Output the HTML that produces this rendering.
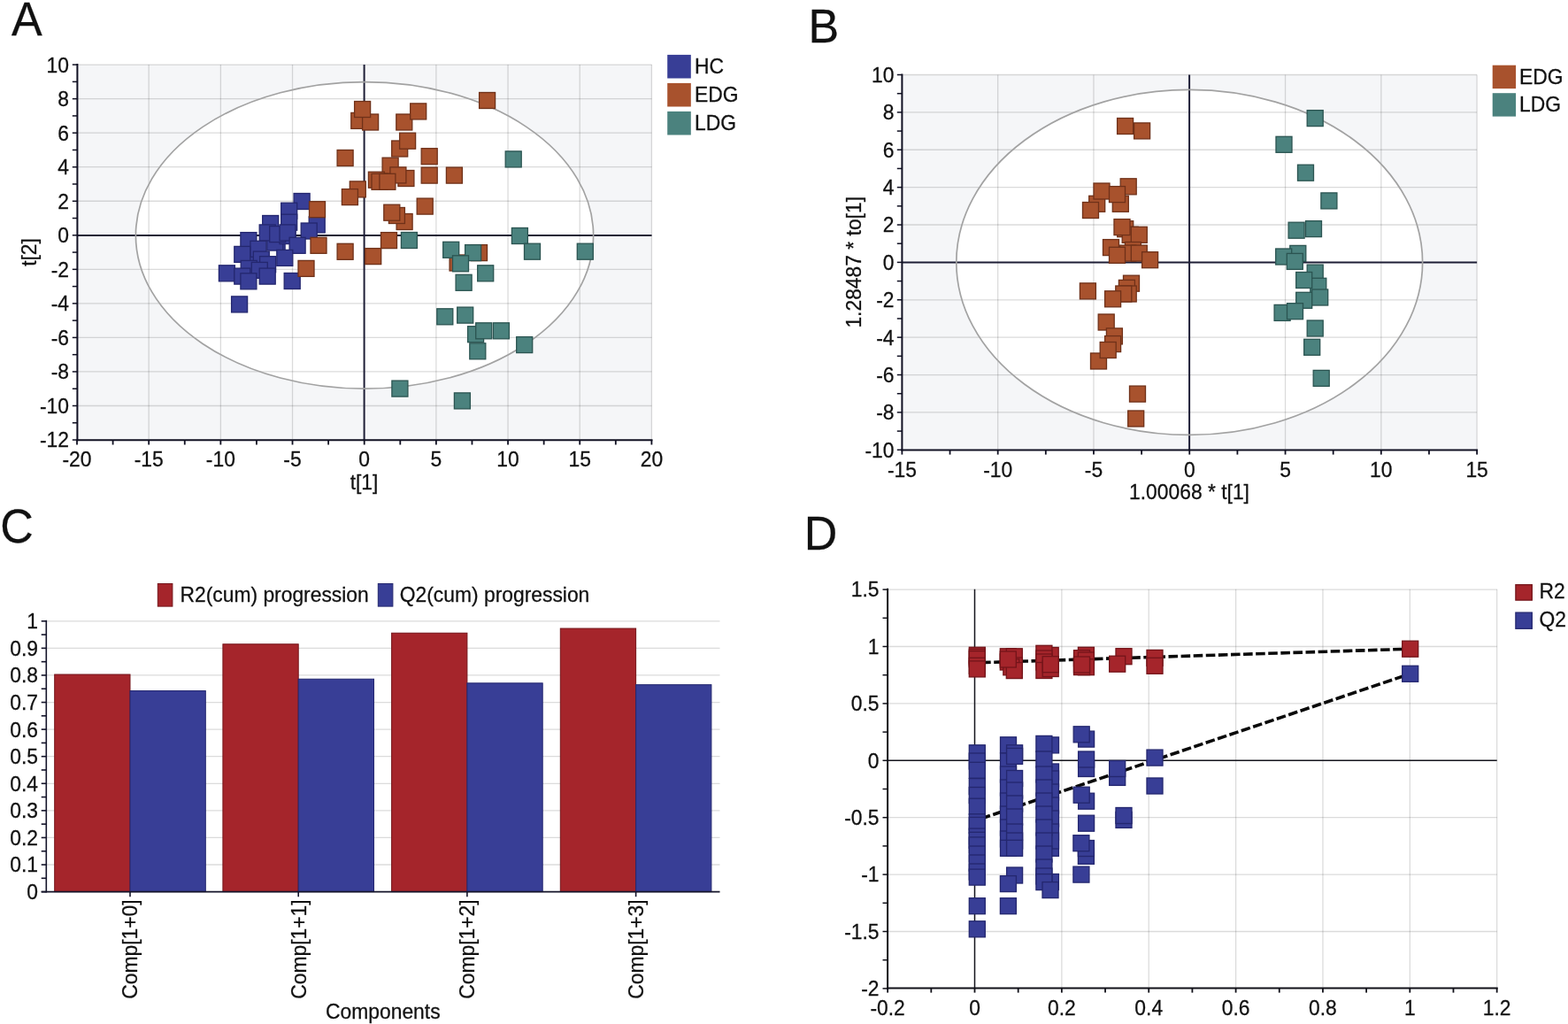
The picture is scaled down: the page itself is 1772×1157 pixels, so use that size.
<!DOCTYPE html>
<html lang="en"><head><meta charset="utf-8"><title>Figure</title>
<style>html,body{margin:0;padding:0;background:#fff}svg{display:block}text{font-family:'Liberation Sans', sans-serif;fill:#111111;stroke:#111111;stroke-width:0.28px}</style>
</head><body>
<svg width="1772" height="1157" viewBox="0 0 1772 1157">
<rect width="1772" height="1157" fill="#ffffff"/>
<g>
<rect x="87.4" y="73" width="649.1" height="424.3" fill="#f5f6f8"/>
<ellipse cx="412.0" cy="265.9" rx="258.6" ry="173.3" fill="#ffffff"/>
<line x1="168.18" y1="73" x2="168.18" y2="497.3" stroke="#000000" stroke-opacity="0.14" stroke-width="1.3"/>
<line x1="249.35" y1="73" x2="249.35" y2="497.3" stroke="#000000" stroke-opacity="0.14" stroke-width="1.3"/>
<line x1="330.52" y1="73" x2="330.52" y2="497.3" stroke="#000000" stroke-opacity="0.14" stroke-width="1.3"/>
<line x1="492.88" y1="73" x2="492.88" y2="497.3" stroke="#000000" stroke-opacity="0.14" stroke-width="1.3"/>
<line x1="574.05" y1="73" x2="574.05" y2="497.3" stroke="#000000" stroke-opacity="0.14" stroke-width="1.3"/>
<line x1="655.22" y1="73" x2="655.22" y2="497.3" stroke="#000000" stroke-opacity="0.14" stroke-width="1.3"/>
<line x1="736.4" y1="73" x2="736.4" y2="497.3" stroke="#000000" stroke-opacity="0.14" stroke-width="1.3"/>
<line x1="87.4" y1="73.1" x2="736.5" y2="73.1" stroke="#000000" stroke-opacity="0.14" stroke-width="1.3"/>
<line x1="87.4" y1="111.64" x2="736.5" y2="111.64" stroke="#000000" stroke-opacity="0.14" stroke-width="1.3"/>
<line x1="87.4" y1="150.18" x2="736.5" y2="150.18" stroke="#000000" stroke-opacity="0.14" stroke-width="1.3"/>
<line x1="87.4" y1="188.72" x2="736.5" y2="188.72" stroke="#000000" stroke-opacity="0.14" stroke-width="1.3"/>
<line x1="87.4" y1="227.26" x2="736.5" y2="227.26" stroke="#000000" stroke-opacity="0.14" stroke-width="1.3"/>
<line x1="87.4" y1="304.34" x2="736.5" y2="304.34" stroke="#000000" stroke-opacity="0.14" stroke-width="1.3"/>
<line x1="87.4" y1="342.88" x2="736.5" y2="342.88" stroke="#000000" stroke-opacity="0.14" stroke-width="1.3"/>
<line x1="87.4" y1="381.42" x2="736.5" y2="381.42" stroke="#000000" stroke-opacity="0.14" stroke-width="1.3"/>
<line x1="87.4" y1="419.96" x2="736.5" y2="419.96" stroke="#000000" stroke-opacity="0.14" stroke-width="1.3"/>
<line x1="87.4" y1="458.5" x2="736.5" y2="458.5" stroke="#000000" stroke-opacity="0.14" stroke-width="1.3"/>
<line x1="87.4" y1="266.0" x2="736.5" y2="266.0" stroke="#1e1e36" stroke-width="2.0"/>
<line x1="411.6" y1="73" x2="411.6" y2="497.3" stroke="#1e1e36" stroke-width="2.0"/>
<ellipse cx="412.0" cy="265.9" rx="258.6" ry="173.3" fill="none" stroke="#a2a2a2" stroke-width="1.7"/>
<rect x="279.6" y="281.7" width="18.0" height="18.0" fill="#383e96" stroke="#24276f" stroke-width="1.3"/>
<rect x="304.1" y="264.6" width="18.0" height="18.0" fill="#383e96" stroke="#24276f" stroke-width="1.3"/>
<rect x="301.8" y="265.0" width="18.0" height="18.0" fill="#383e96" stroke="#24276f" stroke-width="1.3"/>
<rect x="316.0" y="257.6" width="18.0" height="18.0" fill="#383e96" stroke="#24276f" stroke-width="1.3"/>
<rect x="332.1" y="218.5" width="18.0" height="18.0" fill="#383e96" stroke="#24276f" stroke-width="1.3"/>
<rect x="317.7" y="229.2" width="18.0" height="18.0" fill="#383e96" stroke="#24276f" stroke-width="1.3"/>
<rect x="317.7" y="242.2" width="18.0" height="18.0" fill="#383e96" stroke="#24276f" stroke-width="1.3"/>
<rect x="296.7" y="243.5" width="18.0" height="18.0" fill="#383e96" stroke="#24276f" stroke-width="1.3"/>
<rect x="349.2" y="244.9" width="18.0" height="18.0" fill="#383e96" stroke="#24276f" stroke-width="1.3"/>
<rect x="293.2" y="253.9" width="18.0" height="18.0" fill="#383e96" stroke="#24276f" stroke-width="1.3"/>
<rect x="304.7" y="255.6" width="18.0" height="18.0" fill="#383e96" stroke="#24276f" stroke-width="1.3"/>
<rect x="316.0" y="253.9" width="18.0" height="18.0" fill="#383e96" stroke="#24276f" stroke-width="1.3"/>
<rect x="340.2" y="252.0" width="18.0" height="18.0" fill="#383e96" stroke="#24276f" stroke-width="1.3"/>
<rect x="271.9" y="262.6" width="18.0" height="18.0" fill="#383e96" stroke="#24276f" stroke-width="1.3"/>
<rect x="327.1" y="268.3" width="18.0" height="18.0" fill="#383e96" stroke="#24276f" stroke-width="1.3"/>
<rect x="282.9" y="272.3" width="18.0" height="18.0" fill="#383e96" stroke="#24276f" stroke-width="1.3"/>
<rect x="264.8" y="278.4" width="18.0" height="18.0" fill="#383e96" stroke="#24276f" stroke-width="1.3"/>
<rect x="312.8" y="282.4" width="18.0" height="18.0" fill="#383e96" stroke="#24276f" stroke-width="1.3"/>
<rect x="286.3" y="284.1" width="18.0" height="18.0" fill="#383e96" stroke="#24276f" stroke-width="1.3"/>
<rect x="293.6" y="289.7" width="18.0" height="18.0" fill="#383e96" stroke="#24276f" stroke-width="1.3"/>
<rect x="272.2" y="294.4" width="18.0" height="18.0" fill="#383e96" stroke="#24276f" stroke-width="1.3"/>
<rect x="247.4" y="299.8" width="18.0" height="18.0" fill="#383e96" stroke="#24276f" stroke-width="1.3"/>
<rect x="264.8" y="303.1" width="18.0" height="18.0" fill="#383e96" stroke="#24276f" stroke-width="1.3"/>
<rect x="284.3" y="296.4" width="18.0" height="18.0" fill="#383e96" stroke="#24276f" stroke-width="1.3"/>
<rect x="293.2" y="303.1" width="18.0" height="18.0" fill="#383e96" stroke="#24276f" stroke-width="1.3"/>
<rect x="271.9" y="308.8" width="18.0" height="18.0" fill="#383e96" stroke="#24276f" stroke-width="1.3"/>
<rect x="321.2" y="308.5" width="18.0" height="18.0" fill="#383e96" stroke="#24276f" stroke-width="1.3"/>
<rect x="261.6" y="334.9" width="18.0" height="18.0" fill="#383e96" stroke="#24276f" stroke-width="1.3"/>
<rect x="396.8" y="127.4" width="18.0" height="18.0" fill="#a8522d" stroke="#6f3119" stroke-width="1.3"/>
<rect x="409.6" y="129.0" width="18.0" height="18.0" fill="#a8522d" stroke="#6f3119" stroke-width="1.3"/>
<rect x="400.6" y="114.5" width="18.0" height="18.0" fill="#a8522d" stroke="#6f3119" stroke-width="1.3"/>
<rect x="447.8" y="129.0" width="18.0" height="18.0" fill="#a8522d" stroke="#6f3119" stroke-width="1.3"/>
<rect x="463.7" y="116.9" width="18.0" height="18.0" fill="#a8522d" stroke="#6f3119" stroke-width="1.3"/>
<rect x="541.6" y="104.5" width="18.0" height="18.0" fill="#a8522d" stroke="#6f3119" stroke-width="1.3"/>
<rect x="442.7" y="159.0" width="18.0" height="18.0" fill="#a8522d" stroke="#6f3119" stroke-width="1.3"/>
<rect x="451.6" y="150.2" width="18.0" height="18.0" fill="#a8522d" stroke="#6f3119" stroke-width="1.3"/>
<rect x="381.1" y="169.5" width="18.0" height="18.0" fill="#a8522d" stroke="#6f3119" stroke-width="1.3"/>
<rect x="476.2" y="167.7" width="18.0" height="18.0" fill="#a8522d" stroke="#6f3119" stroke-width="1.3"/>
<rect x="432.1" y="178.2" width="18.0" height="18.0" fill="#a8522d" stroke="#6f3119" stroke-width="1.3"/>
<rect x="476.2" y="189.1" width="18.0" height="18.0" fill="#a8522d" stroke="#6f3119" stroke-width="1.3"/>
<rect x="504.4" y="189.1" width="18.0" height="18.0" fill="#a8522d" stroke="#6f3119" stroke-width="1.3"/>
<rect x="449.9" y="192.5" width="18.0" height="18.0" fill="#a8522d" stroke="#6f3119" stroke-width="1.3"/>
<rect x="440.9" y="188.9" width="18.0" height="18.0" fill="#a8522d" stroke="#6f3119" stroke-width="1.3"/>
<rect x="416.4" y="194.2" width="18.0" height="18.0" fill="#a8522d" stroke="#6f3119" stroke-width="1.3"/>
<rect x="420.0" y="196.3" width="18.0" height="18.0" fill="#a8522d" stroke="#6f3119" stroke-width="1.3"/>
<rect x="428.9" y="196.3" width="18.0" height="18.0" fill="#a8522d" stroke="#6f3119" stroke-width="1.3"/>
<rect x="395.3" y="204.9" width="18.0" height="18.0" fill="#a8522d" stroke="#6f3119" stroke-width="1.3"/>
<rect x="386.4" y="213.6" width="18.0" height="18.0" fill="#a8522d" stroke="#6f3119" stroke-width="1.3"/>
<rect x="471.2" y="224.1" width="18.0" height="18.0" fill="#a8522d" stroke="#6f3119" stroke-width="1.3"/>
<rect x="448.1" y="241.5" width="18.0" height="18.0" fill="#a8522d" stroke="#6f3119" stroke-width="1.3"/>
<rect x="439.4" y="234.5" width="18.0" height="18.0" fill="#a8522d" stroke="#6f3119" stroke-width="1.3"/>
<rect x="433.8" y="231.2" width="18.0" height="18.0" fill="#a8522d" stroke="#6f3119" stroke-width="1.3"/>
<rect x="430.5" y="262.6" width="18.0" height="18.0" fill="#a8522d" stroke="#6f3119" stroke-width="1.3"/>
<rect x="381.1" y="275.3" width="18.0" height="18.0" fill="#a8522d" stroke="#6f3119" stroke-width="1.3"/>
<rect x="412.7" y="280.6" width="18.0" height="18.0" fill="#a8522d" stroke="#6f3119" stroke-width="1.3"/>
<rect x="349.5" y="227.7" width="18.0" height="18.0" fill="#a8522d" stroke="#6f3119" stroke-width="1.3"/>
<rect x="351.0" y="268.3" width="18.0" height="18.0" fill="#a8522d" stroke="#6f3119" stroke-width="1.3"/>
<rect x="337.0" y="294.4" width="18.0" height="18.0" fill="#a8522d" stroke="#6f3119" stroke-width="1.3"/>
<rect x="532.5" y="276.6" width="18.0" height="18.0" fill="#a8522d" stroke="#6f3119" stroke-width="1.3"/>
<rect x="508.1" y="288.0" width="18.0" height="18.0" fill="#a8522d" stroke="#6f3119" stroke-width="1.3"/>
<rect x="571.2" y="170.9" width="18.0" height="18.0" fill="#4b827e" stroke="#2b5451" stroke-width="1.3"/>
<rect x="453.4" y="262.5" width="18.0" height="18.0" fill="#4b827e" stroke="#2b5451" stroke-width="1.3"/>
<rect x="578.4" y="257.5" width="18.0" height="18.0" fill="#4b827e" stroke="#2b5451" stroke-width="1.3"/>
<rect x="592.5" y="275.2" width="18.0" height="18.0" fill="#4b827e" stroke="#2b5451" stroke-width="1.3"/>
<rect x="652.3" y="275.2" width="18.0" height="18.0" fill="#4b827e" stroke="#2b5451" stroke-width="1.3"/>
<rect x="500.7" y="273.3" width="18.0" height="18.0" fill="#4b827e" stroke="#2b5451" stroke-width="1.3"/>
<rect x="525.6" y="276.6" width="18.0" height="18.0" fill="#4b827e" stroke="#2b5451" stroke-width="1.3"/>
<rect x="511.5" y="288.8" width="18.0" height="18.0" fill="#4b827e" stroke="#2b5451" stroke-width="1.3"/>
<rect x="539.7" y="299.8" width="18.0" height="18.0" fill="#4b827e" stroke="#2b5451" stroke-width="1.3"/>
<rect x="515.1" y="310.3" width="18.0" height="18.0" fill="#4b827e" stroke="#2b5451" stroke-width="1.3"/>
<rect x="493.8" y="348.8" width="18.0" height="18.0" fill="#4b827e" stroke="#2b5451" stroke-width="1.3"/>
<rect x="516.7" y="347.1" width="18.0" height="18.0" fill="#4b827e" stroke="#2b5451" stroke-width="1.3"/>
<rect x="528.6" y="368.7" width="18.0" height="18.0" fill="#4b827e" stroke="#2b5451" stroke-width="1.3"/>
<rect x="537.7" y="364.8" width="18.0" height="18.0" fill="#4b827e" stroke="#2b5451" stroke-width="1.3"/>
<rect x="557.4" y="364.8" width="18.0" height="18.0" fill="#4b827e" stroke="#2b5451" stroke-width="1.3"/>
<rect x="530.8" y="387.8" width="18.0" height="18.0" fill="#4b827e" stroke="#2b5451" stroke-width="1.3"/>
<rect x="583.7" y="380.6" width="18.0" height="18.0" fill="#4b827e" stroke="#2b5451" stroke-width="1.3"/>
<rect x="442.9" y="430.1" width="18.0" height="18.0" fill="#4b827e" stroke="#2b5451" stroke-width="1.3"/>
<rect x="513.4" y="443.9" width="18.0" height="18.0" fill="#4b827e" stroke="#2b5451" stroke-width="1.3"/>
<line x1="87.4" y1="72" x2="87.4" y2="498.3" stroke="#101022" stroke-width="2"/>
<line x1="86.4" y1="497.3" x2="737.5" y2="497.3" stroke="#101022" stroke-width="2"/>
<line x1="81.80000000000001" y1="73.1" x2="87.4" y2="73.1" stroke="#101022" stroke-width="1.5"/>
<text transform="translate(78 81.5) scale(0.9569 1)" font-size="23.88" text-anchor="end">10</text>
<line x1="81.80000000000001" y1="111.64" x2="87.4" y2="111.64" stroke="#101022" stroke-width="1.5"/>
<text transform="translate(78 120.0) scale(0.9569 1)" font-size="23.88" text-anchor="end">8</text>
<line x1="81.80000000000001" y1="150.18" x2="87.4" y2="150.18" stroke="#101022" stroke-width="1.5"/>
<text transform="translate(78 158.6) scale(0.9569 1)" font-size="23.88" text-anchor="end">6</text>
<line x1="81.80000000000001" y1="188.72" x2="87.4" y2="188.72" stroke="#101022" stroke-width="1.5"/>
<text transform="translate(78 197.1) scale(0.9569 1)" font-size="23.88" text-anchor="end">4</text>
<line x1="81.80000000000001" y1="227.26" x2="87.4" y2="227.26" stroke="#101022" stroke-width="1.5"/>
<text transform="translate(78 235.7) scale(0.9569 1)" font-size="23.88" text-anchor="end">2</text>
<line x1="81.80000000000001" y1="265.8" x2="87.4" y2="265.8" stroke="#101022" stroke-width="1.5"/>
<text transform="translate(78 274.2) scale(0.9569 1)" font-size="23.88" text-anchor="end">0</text>
<line x1="81.80000000000001" y1="304.34" x2="87.4" y2="304.34" stroke="#101022" stroke-width="1.5"/>
<text transform="translate(78 312.7) scale(0.9569 1)" font-size="23.88" text-anchor="end">-2</text>
<line x1="81.80000000000001" y1="342.88" x2="87.4" y2="342.88" stroke="#101022" stroke-width="1.5"/>
<text transform="translate(78 351.3) scale(0.9569 1)" font-size="23.88" text-anchor="end">-4</text>
<line x1="81.80000000000001" y1="381.42" x2="87.4" y2="381.42" stroke="#101022" stroke-width="1.5"/>
<text transform="translate(78 389.8) scale(0.9569 1)" font-size="23.88" text-anchor="end">-6</text>
<line x1="81.80000000000001" y1="419.96" x2="87.4" y2="419.96" stroke="#101022" stroke-width="1.5"/>
<text transform="translate(78 428.4) scale(0.9569 1)" font-size="23.88" text-anchor="end">-8</text>
<line x1="81.80000000000001" y1="458.5" x2="87.4" y2="458.5" stroke="#101022" stroke-width="1.5"/>
<text transform="translate(78 466.9) scale(0.9569 1)" font-size="23.88" text-anchor="end">-10</text>
<line x1="81.80000000000001" y1="497.04" x2="87.4" y2="497.04" stroke="#101022" stroke-width="1.5"/>
<text transform="translate(78 505.4) scale(0.9569 1)" font-size="23.88" text-anchor="end">-12</text>
<line x1="81.80000000000001" y1="92.37" x2="87.4" y2="92.37" stroke="#101022" stroke-width="1.5"/>
<line x1="81.80000000000001" y1="130.91" x2="87.4" y2="130.91" stroke="#101022" stroke-width="1.5"/>
<line x1="81.80000000000001" y1="169.45" x2="87.4" y2="169.45" stroke="#101022" stroke-width="1.5"/>
<line x1="81.80000000000001" y1="207.99" x2="87.4" y2="207.99" stroke="#101022" stroke-width="1.5"/>
<line x1="81.80000000000001" y1="246.53" x2="87.4" y2="246.53" stroke="#101022" stroke-width="1.5"/>
<line x1="81.80000000000001" y1="285.07" x2="87.4" y2="285.07" stroke="#101022" stroke-width="1.5"/>
<line x1="81.80000000000001" y1="323.61" x2="87.4" y2="323.61" stroke="#101022" stroke-width="1.5"/>
<line x1="81.80000000000001" y1="362.15" x2="87.4" y2="362.15" stroke="#101022" stroke-width="1.5"/>
<line x1="81.80000000000001" y1="400.69" x2="87.4" y2="400.69" stroke="#101022" stroke-width="1.5"/>
<line x1="81.80000000000001" y1="439.23" x2="87.4" y2="439.23" stroke="#101022" stroke-width="1.5"/>
<line x1="81.80000000000001" y1="477.77" x2="87.4" y2="477.77" stroke="#101022" stroke-width="1.5"/>
<line x1="87.0" y1="497.3" x2="87.0" y2="502.5" stroke="#101022" stroke-width="1.8"/>
<text transform="translate(87.0 527.4) scale(0.9569 1)" font-size="23.88" text-anchor="middle">-20</text>
<line x1="168.18" y1="497.3" x2="168.18" y2="502.5" stroke="#101022" stroke-width="1.8"/>
<text transform="translate(168.18 527.4) scale(0.9569 1)" font-size="23.88" text-anchor="middle">-15</text>
<line x1="249.35" y1="497.3" x2="249.35" y2="502.5" stroke="#101022" stroke-width="1.8"/>
<text transform="translate(249.35 527.4) scale(0.9569 1)" font-size="23.88" text-anchor="middle">-10</text>
<line x1="330.52" y1="497.3" x2="330.52" y2="502.5" stroke="#101022" stroke-width="1.8"/>
<text transform="translate(330.52 527.4) scale(0.9569 1)" font-size="23.88" text-anchor="middle">-5</text>
<line x1="411.7" y1="497.3" x2="411.7" y2="502.5" stroke="#101022" stroke-width="1.8"/>
<text transform="translate(411.7 527.4) scale(0.9569 1)" font-size="23.88" text-anchor="middle">0</text>
<line x1="492.88" y1="497.3" x2="492.88" y2="502.5" stroke="#101022" stroke-width="1.8"/>
<text transform="translate(492.88 527.4) scale(0.9569 1)" font-size="23.88" text-anchor="middle">5</text>
<line x1="574.05" y1="497.3" x2="574.05" y2="502.5" stroke="#101022" stroke-width="1.8"/>
<text transform="translate(574.05 527.4) scale(0.9569 1)" font-size="23.88" text-anchor="middle">10</text>
<line x1="655.22" y1="497.3" x2="655.22" y2="502.5" stroke="#101022" stroke-width="1.8"/>
<text transform="translate(655.22 527.4) scale(0.9569 1)" font-size="23.88" text-anchor="middle">15</text>
<line x1="736.4" y1="497.3" x2="736.4" y2="502.5" stroke="#101022" stroke-width="1.8"/>
<text transform="translate(736.4 527.4) scale(0.9569 1)" font-size="23.88" text-anchor="middle">20</text>
<line x1="127.59" y1="497.3" x2="127.59" y2="502.5" stroke="#101022" stroke-width="1.8"/>
<line x1="208.76" y1="497.3" x2="208.76" y2="502.5" stroke="#101022" stroke-width="1.8"/>
<line x1="289.94" y1="497.3" x2="289.94" y2="502.5" stroke="#101022" stroke-width="1.8"/>
<line x1="371.11" y1="497.3" x2="371.11" y2="502.5" stroke="#101022" stroke-width="1.8"/>
<line x1="452.29" y1="497.3" x2="452.29" y2="502.5" stroke="#101022" stroke-width="1.8"/>
<line x1="533.46" y1="497.3" x2="533.46" y2="502.5" stroke="#101022" stroke-width="1.8"/>
<line x1="614.64" y1="497.3" x2="614.64" y2="502.5" stroke="#101022" stroke-width="1.8"/>
<line x1="695.81" y1="497.3" x2="695.81" y2="502.5" stroke="#101022" stroke-width="1.8"/>
<text transform="translate(411.5 553.2) scale(0.9569 1)" font-size="23.88" text-anchor="middle">t[1]</text>
<text transform="translate(41 285) rotate(-90) scale(0.9569 1)" font-size="23.88" text-anchor="middle">t[2]</text>
<rect x="754.2" y="61.9" width="26.6" height="26.6" fill="#383e96"/>
<text transform="translate(785 83.2) scale(0.9569 1)" font-size="23.88" text-anchor="start">HC</text>
<rect x="754.2" y="93.9" width="26.6" height="26.6" fill="#a8522d"/>
<text transform="translate(785 115.2) scale(0.9569 1)" font-size="23.88" text-anchor="start">EDG</text>
<rect x="754.2" y="125.9" width="26.6" height="26.6" fill="#4b827e"/>
<text transform="translate(785 147.2) scale(0.9569 1)" font-size="23.88" text-anchor="start">LDG</text>
</g>
<g>
<rect x="1019.4" y="84.5" width="649.6999999999999" height="423.9" fill="#f5f6f8"/>
<ellipse cx="1344.2" cy="296.4" rx="263.4" ry="195" fill="#ffffff"/>
<line x1="1127.68" y1="84.5" x2="1127.68" y2="508.4" stroke="#000000" stroke-opacity="0.14" stroke-width="1.3"/>
<line x1="1235.96" y1="84.5" x2="1235.96" y2="508.4" stroke="#000000" stroke-opacity="0.14" stroke-width="1.3"/>
<line x1="1452.54" y1="84.5" x2="1452.54" y2="508.4" stroke="#000000" stroke-opacity="0.14" stroke-width="1.3"/>
<line x1="1560.82" y1="84.5" x2="1560.82" y2="508.4" stroke="#000000" stroke-opacity="0.14" stroke-width="1.3"/>
<line x1="1669.11" y1="84.5" x2="1669.11" y2="508.4" stroke="#000000" stroke-opacity="0.14" stroke-width="1.3"/>
<line x1="1019.4" y1="84.5" x2="1669.1" y2="84.5" stroke="#000000" stroke-opacity="0.14" stroke-width="1.3"/>
<line x1="1019.4" y1="126.88" x2="1669.1" y2="126.88" stroke="#000000" stroke-opacity="0.14" stroke-width="1.3"/>
<line x1="1019.4" y1="169.26" x2="1669.1" y2="169.26" stroke="#000000" stroke-opacity="0.14" stroke-width="1.3"/>
<line x1="1019.4" y1="211.64" x2="1669.1" y2="211.64" stroke="#000000" stroke-opacity="0.14" stroke-width="1.3"/>
<line x1="1019.4" y1="254.02" x2="1669.1" y2="254.02" stroke="#000000" stroke-opacity="0.14" stroke-width="1.3"/>
<line x1="1019.4" y1="338.78" x2="1669.1" y2="338.78" stroke="#000000" stroke-opacity="0.14" stroke-width="1.3"/>
<line x1="1019.4" y1="381.16" x2="1669.1" y2="381.16" stroke="#000000" stroke-opacity="0.14" stroke-width="1.3"/>
<line x1="1019.4" y1="423.54" x2="1669.1" y2="423.54" stroke="#000000" stroke-opacity="0.14" stroke-width="1.3"/>
<line x1="1019.4" y1="465.92" x2="1669.1" y2="465.92" stroke="#000000" stroke-opacity="0.14" stroke-width="1.3"/>
<line x1="1019.4" y1="296.45" x2="1669.1" y2="296.45" stroke="#1e1e36" stroke-width="2.0"/>
<line x1="1344.1" y1="84.5" x2="1344.1" y2="508.4" stroke="#1e1e36" stroke-width="2.0"/>
<ellipse cx="1344.2" cy="296.4" rx="263.4" ry="195" fill="none" stroke="#a2a2a2" stroke-width="1.7"/>
<rect x="1262.6" y="133.5" width="18.0" height="18.0" fill="#a8522d" stroke="#6f3119" stroke-width="1.3"/>
<rect x="1281.6" y="138.9" width="18.0" height="18.0" fill="#a8522d" stroke="#6f3119" stroke-width="1.3"/>
<rect x="1266.2" y="201.8" width="18.0" height="18.0" fill="#a8522d" stroke="#6f3119" stroke-width="1.3"/>
<rect x="1230.7" y="221.3" width="18.0" height="18.0" fill="#a8522d" stroke="#6f3119" stroke-width="1.3"/>
<rect x="1257.3" y="221.3" width="18.0" height="18.0" fill="#a8522d" stroke="#6f3119" stroke-width="1.3"/>
<rect x="1236.0" y="207.0" width="18.0" height="18.0" fill="#a8522d" stroke="#6f3119" stroke-width="1.3"/>
<rect x="1253.5" y="210.6" width="18.0" height="18.0" fill="#a8522d" stroke="#6f3119" stroke-width="1.3"/>
<rect x="1223.5" y="228.5" width="18.0" height="18.0" fill="#a8522d" stroke="#6f3119" stroke-width="1.3"/>
<rect x="1262.7" y="249.7" width="18.0" height="18.0" fill="#a8522d" stroke="#6f3119" stroke-width="1.3"/>
<rect x="1268.2" y="256.3" width="18.0" height="18.0" fill="#a8522d" stroke="#6f3119" stroke-width="1.3"/>
<rect x="1278.3" y="256.3" width="18.0" height="18.0" fill="#a8522d" stroke="#6f3119" stroke-width="1.3"/>
<rect x="1259.0" y="247.6" width="18.0" height="18.0" fill="#a8522d" stroke="#6f3119" stroke-width="1.3"/>
<rect x="1246.5" y="270.6" width="18.0" height="18.0" fill="#a8522d" stroke="#6f3119" stroke-width="1.3"/>
<rect x="1271.4" y="273.5" width="18.0" height="18.0" fill="#a8522d" stroke="#6f3119" stroke-width="1.3"/>
<rect x="1265.7" y="277.1" width="18.0" height="18.0" fill="#a8522d" stroke="#6f3119" stroke-width="1.3"/>
<rect x="1278.3" y="277.1" width="18.0" height="18.0" fill="#a8522d" stroke="#6f3119" stroke-width="1.3"/>
<rect x="1290.6" y="284.7" width="18.0" height="18.0" fill="#a8522d" stroke="#6f3119" stroke-width="1.3"/>
<rect x="1253.5" y="279.3" width="18.0" height="18.0" fill="#a8522d" stroke="#6f3119" stroke-width="1.3"/>
<rect x="1269.5" y="311.2" width="18.0" height="18.0" fill="#a8522d" stroke="#6f3119" stroke-width="1.3"/>
<rect x="1264.4" y="316.4" width="18.0" height="18.0" fill="#a8522d" stroke="#6f3119" stroke-width="1.3"/>
<rect x="1266.2" y="323.0" width="18.0" height="18.0" fill="#a8522d" stroke="#6f3119" stroke-width="1.3"/>
<rect x="1260.8" y="323.0" width="18.0" height="18.0" fill="#a8522d" stroke="#6f3119" stroke-width="1.3"/>
<rect x="1220.4" y="319.9" width="18.0" height="18.0" fill="#a8522d" stroke="#6f3119" stroke-width="1.3"/>
<rect x="1248.6" y="328.8" width="18.0" height="18.0" fill="#a8522d" stroke="#6f3119" stroke-width="1.3"/>
<rect x="1241.2" y="355.0" width="18.0" height="18.0" fill="#a8522d" stroke="#6f3119" stroke-width="1.3"/>
<rect x="1250.4" y="370.9" width="18.0" height="18.0" fill="#a8522d" stroke="#6f3119" stroke-width="1.3"/>
<rect x="1248.6" y="379.6" width="18.0" height="18.0" fill="#a8522d" stroke="#6f3119" stroke-width="1.3"/>
<rect x="1232.5" y="399.0" width="18.0" height="18.0" fill="#a8522d" stroke="#6f3119" stroke-width="1.3"/>
<rect x="1243.2" y="386.5" width="18.0" height="18.0" fill="#a8522d" stroke="#6f3119" stroke-width="1.3"/>
<rect x="1276.5" y="436.1" width="18.0" height="18.0" fill="#a8522d" stroke="#6f3119" stroke-width="1.3"/>
<rect x="1274.7" y="464.0" width="18.0" height="18.0" fill="#a8522d" stroke="#6f3119" stroke-width="1.3"/>
<rect x="1477.2" y="124.6" width="18.0" height="18.0" fill="#4b827e" stroke="#2b5451" stroke-width="1.3"/>
<rect x="1442.0" y="154.3" width="18.0" height="18.0" fill="#4b827e" stroke="#2b5451" stroke-width="1.3"/>
<rect x="1466.5" y="186.2" width="18.0" height="18.0" fill="#4b827e" stroke="#2b5451" stroke-width="1.3"/>
<rect x="1492.9" y="217.9" width="18.0" height="18.0" fill="#4b827e" stroke="#2b5451" stroke-width="1.3"/>
<rect x="1456.1" y="251.2" width="18.0" height="18.0" fill="#4b827e" stroke="#2b5451" stroke-width="1.3"/>
<rect x="1475.5" y="249.6" width="18.0" height="18.0" fill="#4b827e" stroke="#2b5451" stroke-width="1.3"/>
<rect x="1457.8" y="277.4" width="18.0" height="18.0" fill="#4b827e" stroke="#2b5451" stroke-width="1.3"/>
<rect x="1441.7" y="281.0" width="18.0" height="18.0" fill="#4b827e" stroke="#2b5451" stroke-width="1.3"/>
<rect x="1454.3" y="286.4" width="18.0" height="18.0" fill="#4b827e" stroke="#2b5451" stroke-width="1.3"/>
<rect x="1477.2" y="299.1" width="18.0" height="18.0" fill="#4b827e" stroke="#2b5451" stroke-width="1.3"/>
<rect x="1480.8" y="314.3" width="18.0" height="18.0" fill="#4b827e" stroke="#2b5451" stroke-width="1.3"/>
<rect x="1464.7" y="307.5" width="18.0" height="18.0" fill="#4b827e" stroke="#2b5451" stroke-width="1.3"/>
<rect x="1464.7" y="330.3" width="18.0" height="18.0" fill="#4b827e" stroke="#2b5451" stroke-width="1.3"/>
<rect x="1482.7" y="327.0" width="18.0" height="18.0" fill="#4b827e" stroke="#2b5451" stroke-width="1.3"/>
<rect x="1440.1" y="344.4" width="18.0" height="18.0" fill="#4b827e" stroke="#2b5451" stroke-width="1.3"/>
<rect x="1454.5" y="342.7" width="18.0" height="18.0" fill="#4b827e" stroke="#2b5451" stroke-width="1.3"/>
<rect x="1477.2" y="362.0" width="18.0" height="18.0" fill="#4b827e" stroke="#2b5451" stroke-width="1.3"/>
<rect x="1473.7" y="383.3" width="18.0" height="18.0" fill="#4b827e" stroke="#2b5451" stroke-width="1.3"/>
<rect x="1484.2" y="418.4" width="18.0" height="18.0" fill="#4b827e" stroke="#2b5451" stroke-width="1.3"/>
<line x1="1019.4" y1="83.5" x2="1019.4" y2="509.4" stroke="#101022" stroke-width="2"/>
<line x1="1018.4" y1="508.4" x2="1670.1" y2="508.4" stroke="#101022" stroke-width="2"/>
<line x1="1013.8" y1="84.5" x2="1019.4" y2="84.5" stroke="#101022" stroke-width="1.5"/>
<text transform="translate(1010.5 92.9) scale(0.9569 1)" font-size="23.88" text-anchor="end">10</text>
<line x1="1013.8" y1="126.88" x2="1019.4" y2="126.88" stroke="#101022" stroke-width="1.5"/>
<text transform="translate(1010.5 135.3) scale(0.9569 1)" font-size="23.88" text-anchor="end">8</text>
<line x1="1013.8" y1="169.26" x2="1019.4" y2="169.26" stroke="#101022" stroke-width="1.5"/>
<text transform="translate(1010.5 177.7) scale(0.9569 1)" font-size="23.88" text-anchor="end">6</text>
<line x1="1013.8" y1="211.64" x2="1019.4" y2="211.64" stroke="#101022" stroke-width="1.5"/>
<text transform="translate(1010.5 220.0) scale(0.9569 1)" font-size="23.88" text-anchor="end">4</text>
<line x1="1013.8" y1="254.02" x2="1019.4" y2="254.02" stroke="#101022" stroke-width="1.5"/>
<text transform="translate(1010.5 262.4) scale(0.9569 1)" font-size="23.88" text-anchor="end">2</text>
<line x1="1013.8" y1="296.4" x2="1019.4" y2="296.4" stroke="#101022" stroke-width="1.5"/>
<text transform="translate(1010.5 304.8) scale(0.9569 1)" font-size="23.88" text-anchor="end">0</text>
<line x1="1013.8" y1="338.78" x2="1019.4" y2="338.78" stroke="#101022" stroke-width="1.5"/>
<text transform="translate(1010.5 347.2) scale(0.9569 1)" font-size="23.88" text-anchor="end">-2</text>
<line x1="1013.8" y1="381.16" x2="1019.4" y2="381.16" stroke="#101022" stroke-width="1.5"/>
<text transform="translate(1010.5 389.6) scale(0.9569 1)" font-size="23.88" text-anchor="end">-4</text>
<line x1="1013.8" y1="423.54" x2="1019.4" y2="423.54" stroke="#101022" stroke-width="1.5"/>
<text transform="translate(1010.5 431.9) scale(0.9569 1)" font-size="23.88" text-anchor="end">-6</text>
<line x1="1013.8" y1="465.92" x2="1019.4" y2="465.92" stroke="#101022" stroke-width="1.5"/>
<text transform="translate(1010.5 474.3) scale(0.9569 1)" font-size="23.88" text-anchor="end">-8</text>
<line x1="1013.8" y1="508.3" x2="1019.4" y2="508.3" stroke="#101022" stroke-width="1.5"/>
<text transform="translate(1010.5 516.7) scale(0.9569 1)" font-size="23.88" text-anchor="end">-10</text>
<line x1="1013.8" y1="105.69" x2="1019.4" y2="105.69" stroke="#101022" stroke-width="1.5"/>
<line x1="1013.8" y1="148.07" x2="1019.4" y2="148.07" stroke="#101022" stroke-width="1.5"/>
<line x1="1013.8" y1="190.45" x2="1019.4" y2="190.45" stroke="#101022" stroke-width="1.5"/>
<line x1="1013.8" y1="232.83" x2="1019.4" y2="232.83" stroke="#101022" stroke-width="1.5"/>
<line x1="1013.8" y1="275.21" x2="1019.4" y2="275.21" stroke="#101022" stroke-width="1.5"/>
<line x1="1013.8" y1="317.59" x2="1019.4" y2="317.59" stroke="#101022" stroke-width="1.5"/>
<line x1="1013.8" y1="359.97" x2="1019.4" y2="359.97" stroke="#101022" stroke-width="1.5"/>
<line x1="1013.8" y1="402.35" x2="1019.4" y2="402.35" stroke="#101022" stroke-width="1.5"/>
<line x1="1013.8" y1="444.73" x2="1019.4" y2="444.73" stroke="#101022" stroke-width="1.5"/>
<line x1="1013.8" y1="487.11" x2="1019.4" y2="487.11" stroke="#101022" stroke-width="1.5"/>
<line x1="1019.39" y1="508.4" x2="1019.39" y2="513.6" stroke="#101022" stroke-width="1.8"/>
<text transform="translate(1019.39 538.6) scale(0.9569 1)" font-size="23.88" text-anchor="middle">-15</text>
<line x1="1127.68" y1="508.4" x2="1127.68" y2="513.6" stroke="#101022" stroke-width="1.8"/>
<text transform="translate(1127.68 538.6) scale(0.9569 1)" font-size="23.88" text-anchor="middle">-10</text>
<line x1="1235.96" y1="508.4" x2="1235.96" y2="513.6" stroke="#101022" stroke-width="1.8"/>
<text transform="translate(1235.96 538.6) scale(0.9569 1)" font-size="23.88" text-anchor="middle">-5</text>
<line x1="1344.25" y1="508.4" x2="1344.25" y2="513.6" stroke="#101022" stroke-width="1.8"/>
<text transform="translate(1344.25 538.6) scale(0.9569 1)" font-size="23.88" text-anchor="middle">0</text>
<line x1="1452.54" y1="508.4" x2="1452.54" y2="513.6" stroke="#101022" stroke-width="1.8"/>
<text transform="translate(1452.54 538.6) scale(0.9569 1)" font-size="23.88" text-anchor="middle">5</text>
<line x1="1560.82" y1="508.4" x2="1560.82" y2="513.6" stroke="#101022" stroke-width="1.8"/>
<text transform="translate(1560.82 538.6) scale(0.9569 1)" font-size="23.88" text-anchor="middle">10</text>
<line x1="1669.11" y1="508.4" x2="1669.11" y2="513.6" stroke="#101022" stroke-width="1.8"/>
<text transform="translate(1669.11 538.6) scale(0.9569 1)" font-size="23.88" text-anchor="middle">15</text>
<line x1="1073.54" y1="508.4" x2="1073.54" y2="513.6" stroke="#101022" stroke-width="1.8"/>
<line x1="1181.82" y1="508.4" x2="1181.82" y2="513.6" stroke="#101022" stroke-width="1.8"/>
<line x1="1290.11" y1="508.4" x2="1290.11" y2="513.6" stroke="#101022" stroke-width="1.8"/>
<line x1="1398.39" y1="508.4" x2="1398.39" y2="513.6" stroke="#101022" stroke-width="1.8"/>
<line x1="1506.68" y1="508.4" x2="1506.68" y2="513.6" stroke="#101022" stroke-width="1.8"/>
<line x1="1614.96" y1="508.4" x2="1614.96" y2="513.6" stroke="#101022" stroke-width="1.8"/>
<text transform="translate(1344 564) scale(0.9569 1)" font-size="23.88" text-anchor="middle">1.00068 * t[1]</text>
<text transform="translate(972.5 296.3) rotate(-90) scale(0.9569 1)" font-size="23.88" text-anchor="middle">1.28487 * to[1]</text>
<rect x="1686.7" y="73.7" width="26.4" height="26.4" fill="#a8522d"/>
<text transform="translate(1717 94.8) scale(0.9569 1)" font-size="23.88" text-anchor="start">EDG</text>
<rect x="1686.7" y="105.2" width="26.4" height="26.4" fill="#4b827e"/>
<text transform="translate(1717 126.3) scale(0.9569 1)" font-size="23.88" text-anchor="start">LDG</text>
</g>
<g>
<rect x="1003.1" y="665.7" width="688.6" height="450.70000000000005" fill="#ffffff"/>
<line x1="1199.86" y1="665.7" x2="1199.86" y2="1116.4" stroke="#000000" stroke-opacity="0.14" stroke-width="1.3"/>
<line x1="1298.22" y1="665.7" x2="1298.22" y2="1116.4" stroke="#000000" stroke-opacity="0.14" stroke-width="1.3"/>
<line x1="1396.58" y1="665.7" x2="1396.58" y2="1116.4" stroke="#000000" stroke-opacity="0.14" stroke-width="1.3"/>
<line x1="1494.94" y1="665.7" x2="1494.94" y2="1116.4" stroke="#000000" stroke-opacity="0.14" stroke-width="1.3"/>
<line x1="1593.3" y1="665.7" x2="1593.3" y2="1116.4" stroke="#000000" stroke-opacity="0.14" stroke-width="1.3"/>
<line x1="1691.66" y1="665.7" x2="1691.66" y2="1116.4" stroke="#000000" stroke-opacity="0.14" stroke-width="1.3"/>
<line x1="1003.1" y1="666.1" x2="1691.7" y2="666.1" stroke="#000000" stroke-opacity="0.14" stroke-width="1.3"/>
<line x1="1003.1" y1="730.5" x2="1691.7" y2="730.5" stroke="#000000" stroke-opacity="0.14" stroke-width="1.3"/>
<line x1="1003.1" y1="794.9" x2="1691.7" y2="794.9" stroke="#000000" stroke-opacity="0.14" stroke-width="1.3"/>
<line x1="1003.1" y1="923.7" x2="1691.7" y2="923.7" stroke="#000000" stroke-opacity="0.14" stroke-width="1.3"/>
<line x1="1003.1" y1="988.1" x2="1691.7" y2="988.1" stroke="#000000" stroke-opacity="0.14" stroke-width="1.3"/>
<line x1="1003.1" y1="1052.5" x2="1691.7" y2="1052.5" stroke="#000000" stroke-opacity="0.14" stroke-width="1.3"/>
<line x1="1003.1" y1="859.3" x2="1691.7" y2="859.3" stroke="#14141c" stroke-width="1.5"/>
<line x1="1101.5" y1="665.7" x2="1101.5" y2="1116.4" stroke="#14141c" stroke-width="1.5"/>
<line x1="1104.3" y1="748.8" x2="1593.7" y2="733.2" stroke="#0a0a0a" stroke-width="3.6" stroke-dasharray="10.6 3.5" stroke-dashoffset="9.3"/>
<line x1="1104.3" y1="926.5" x2="1593.7" y2="761.3" stroke="#0a0a0a" stroke-width="3.6" stroke-dasharray="10.6 3.5" stroke-dashoffset="9.3"/>
<rect x="1095.3" y="731.3" width="18.0" height="18.0" fill="#a5252b" stroke="#74141a" stroke-width="1.3"/>
<rect x="1095.3" y="733.4" width="18.0" height="18.0" fill="#a5252b" stroke="#74141a" stroke-width="1.3"/>
<rect x="1095.3" y="735.6" width="18.0" height="18.0" fill="#a5252b" stroke="#74141a" stroke-width="1.3"/>
<rect x="1095.3" y="743.3" width="18.0" height="18.0" fill="#a5252b" stroke="#74141a" stroke-width="1.3"/>
<rect x="1095.3" y="746.9" width="18.0" height="18.0" fill="#a5252b" stroke="#74141a" stroke-width="1.3"/>
<rect x="1130.3" y="732.8" width="18.0" height="18.0" fill="#a5252b" stroke="#74141a" stroke-width="1.3"/>
<rect x="1137.3" y="732.8" width="18.0" height="18.0" fill="#a5252b" stroke="#74141a" stroke-width="1.3"/>
<rect x="1130.3" y="739.0" width="18.0" height="18.0" fill="#a5252b" stroke="#74141a" stroke-width="1.3"/>
<rect x="1137.3" y="743.0" width="18.0" height="18.0" fill="#a5252b" stroke="#74141a" stroke-width="1.3"/>
<rect x="1133.8" y="744.8" width="18.0" height="18.0" fill="#a5252b" stroke="#74141a" stroke-width="1.3"/>
<rect x="1137.3" y="748.6" width="18.0" height="18.0" fill="#a5252b" stroke="#74141a" stroke-width="1.3"/>
<rect x="1130.3" y="736.0" width="18.0" height="18.0" fill="#a5252b" stroke="#74141a" stroke-width="1.3"/>
<rect x="1178.2" y="731.5" width="18.0" height="18.0" fill="#a5252b" stroke="#74141a" stroke-width="1.3"/>
<rect x="1170.9" y="729.3" width="18.0" height="18.0" fill="#a5252b" stroke="#74141a" stroke-width="1.3"/>
<rect x="1170.9" y="735.0" width="18.0" height="18.0" fill="#a5252b" stroke="#74141a" stroke-width="1.3"/>
<rect x="1170.9" y="739.0" width="18.0" height="18.0" fill="#a5252b" stroke="#74141a" stroke-width="1.3"/>
<rect x="1170.9" y="748.5" width="18.0" height="18.0" fill="#a5252b" stroke="#74141a" stroke-width="1.3"/>
<rect x="1178.2" y="746.5" width="18.0" height="18.0" fill="#a5252b" stroke="#74141a" stroke-width="1.3"/>
<rect x="1178.2" y="741.7" width="18.0" height="18.0" fill="#a5252b" stroke="#74141a" stroke-width="1.3"/>
<rect x="1218.4" y="731.3" width="18.0" height="18.0" fill="#a5252b" stroke="#74141a" stroke-width="1.3"/>
<rect x="1213.5" y="734.7" width="18.0" height="18.0" fill="#a5252b" stroke="#74141a" stroke-width="1.3"/>
<rect x="1218.4" y="737.0" width="18.0" height="18.0" fill="#a5252b" stroke="#74141a" stroke-width="1.3"/>
<rect x="1218.4" y="744.7" width="18.0" height="18.0" fill="#a5252b" stroke="#74141a" stroke-width="1.3"/>
<rect x="1213.5" y="744.6" width="18.0" height="18.0" fill="#a5252b" stroke="#74141a" stroke-width="1.3"/>
<rect x="1213.5" y="742.0" width="18.0" height="18.0" fill="#a5252b" stroke="#74141a" stroke-width="1.3"/>
<rect x="1261.0" y="732.7" width="18.0" height="18.0" fill="#a5252b" stroke="#74141a" stroke-width="1.3"/>
<rect x="1253.7" y="741.2" width="18.0" height="18.0" fill="#a5252b" stroke="#74141a" stroke-width="1.3"/>
<rect x="1296.0" y="734.4" width="18.0" height="18.0" fill="#a5252b" stroke="#74141a" stroke-width="1.3"/>
<rect x="1296.0" y="743.3" width="18.0" height="18.0" fill="#a5252b" stroke="#74141a" stroke-width="1.3"/>
<rect x="1584.7" y="724.2" width="18.0" height="18.0" fill="#a5252b" stroke="#74141a" stroke-width="1.3"/>
<rect x="1095.3" y="841.8" width="18.0" height="18.0" fill="#383e96" stroke="#24276f" stroke-width="1.3"/>
<rect x="1095.3" y="851.0" width="18.0" height="18.0" fill="#383e96" stroke="#24276f" stroke-width="1.3"/>
<rect x="1095.3" y="861.3" width="18.0" height="18.0" fill="#383e96" stroke="#24276f" stroke-width="1.3"/>
<rect x="1095.3" y="879.6" width="18.0" height="18.0" fill="#383e96" stroke="#24276f" stroke-width="1.3"/>
<rect x="1095.3" y="889.5" width="18.0" height="18.0" fill="#383e96" stroke="#24276f" stroke-width="1.3"/>
<rect x="1095.3" y="902.2" width="18.0" height="18.0" fill="#383e96" stroke="#24276f" stroke-width="1.3"/>
<rect x="1095.3" y="919.8" width="18.0" height="18.0" fill="#383e96" stroke="#24276f" stroke-width="1.3"/>
<rect x="1095.3" y="923.4" width="18.0" height="18.0" fill="#383e96" stroke="#24276f" stroke-width="1.3"/>
<rect x="1095.3" y="936.1" width="18.0" height="18.0" fill="#383e96" stroke="#24276f" stroke-width="1.3"/>
<rect x="1095.3" y="940.3" width="18.0" height="18.0" fill="#383e96" stroke="#24276f" stroke-width="1.3"/>
<rect x="1095.3" y="945.9" width="18.0" height="18.0" fill="#383e96" stroke="#24276f" stroke-width="1.3"/>
<rect x="1095.3" y="956.0" width="18.0" height="18.0" fill="#383e96" stroke="#24276f" stroke-width="1.3"/>
<rect x="1095.3" y="966.0" width="18.0" height="18.0" fill="#383e96" stroke="#24276f" stroke-width="1.3"/>
<rect x="1095.3" y="976.0" width="18.0" height="18.0" fill="#383e96" stroke="#24276f" stroke-width="1.3"/>
<rect x="1095.3" y="982.1" width="18.0" height="18.0" fill="#383e96" stroke="#24276f" stroke-width="1.3"/>
<rect x="1095.3" y="1014.7" width="18.0" height="18.0" fill="#383e96" stroke="#24276f" stroke-width="1.3"/>
<rect x="1095.3" y="1040.8" width="18.0" height="18.0" fill="#383e96" stroke="#24276f" stroke-width="1.3"/>
<rect x="1130.5" y="832.8" width="18.0" height="18.0" fill="#383e96" stroke="#24276f" stroke-width="1.3"/>
<rect x="1130.5" y="851.0" width="18.0" height="18.0" fill="#383e96" stroke="#24276f" stroke-width="1.3"/>
<rect x="1130.5" y="866.0" width="18.0" height="18.0" fill="#383e96" stroke="#24276f" stroke-width="1.3"/>
<rect x="1130.5" y="881.0" width="18.0" height="18.0" fill="#383e96" stroke="#24276f" stroke-width="1.3"/>
<rect x="1130.5" y="896.0" width="18.0" height="18.0" fill="#383e96" stroke="#24276f" stroke-width="1.3"/>
<rect x="1130.5" y="911.0" width="18.0" height="18.0" fill="#383e96" stroke="#24276f" stroke-width="1.3"/>
<rect x="1130.5" y="926.0" width="18.0" height="18.0" fill="#383e96" stroke="#24276f" stroke-width="1.3"/>
<rect x="1130.5" y="939.0" width="18.0" height="18.0" fill="#383e96" stroke="#24276f" stroke-width="1.3"/>
<rect x="1130.5" y="949.3" width="18.0" height="18.0" fill="#383e96" stroke="#24276f" stroke-width="1.3"/>
<rect x="1137.6" y="841.8" width="18.0" height="18.0" fill="#383e96" stroke="#24276f" stroke-width="1.3"/>
<rect x="1137.6" y="845.4" width="18.0" height="18.0" fill="#383e96" stroke="#24276f" stroke-width="1.3"/>
<rect x="1137.6" y="870.5" width="18.0" height="18.0" fill="#383e96" stroke="#24276f" stroke-width="1.3"/>
<rect x="1137.6" y="884.0" width="18.0" height="18.0" fill="#383e96" stroke="#24276f" stroke-width="1.3"/>
<rect x="1137.6" y="899.0" width="18.0" height="18.0" fill="#383e96" stroke="#24276f" stroke-width="1.3"/>
<rect x="1137.6" y="914.0" width="18.0" height="18.0" fill="#383e96" stroke="#24276f" stroke-width="1.3"/>
<rect x="1137.6" y="931.0" width="18.0" height="18.0" fill="#383e96" stroke="#24276f" stroke-width="1.3"/>
<rect x="1137.6" y="941.0" width="18.0" height="18.0" fill="#383e96" stroke="#24276f" stroke-width="1.3"/>
<rect x="1137.6" y="949.3" width="18.0" height="18.0" fill="#383e96" stroke="#24276f" stroke-width="1.3"/>
<rect x="1137.6" y="980.0" width="18.0" height="18.0" fill="#383e96" stroke="#24276f" stroke-width="1.3"/>
<rect x="1130.4" y="989.6" width="18.0" height="18.0" fill="#383e96" stroke="#24276f" stroke-width="1.3"/>
<rect x="1130.4" y="1014.7" width="18.0" height="18.0" fill="#383e96" stroke="#24276f" stroke-width="1.3"/>
<rect x="1178.4" y="987.5" width="18.0" height="18.0" fill="#383e96" stroke="#24276f" stroke-width="1.3"/>
<rect x="1178.4" y="949.3" width="18.0" height="18.0" fill="#383e96" stroke="#24276f" stroke-width="1.3"/>
<rect x="1178.5" y="832.9" width="18.0" height="18.0" fill="#383e96" stroke="#24276f" stroke-width="1.3"/>
<rect x="1178.5" y="863.0" width="18.0" height="18.0" fill="#383e96" stroke="#24276f" stroke-width="1.3"/>
<rect x="1178.5" y="871.0" width="18.0" height="18.0" fill="#383e96" stroke="#24276f" stroke-width="1.3"/>
<rect x="1178.5" y="886.0" width="18.0" height="18.0" fill="#383e96" stroke="#24276f" stroke-width="1.3"/>
<rect x="1178.5" y="901.0" width="18.0" height="18.0" fill="#383e96" stroke="#24276f" stroke-width="1.3"/>
<rect x="1178.5" y="916.0" width="18.0" height="18.0" fill="#383e96" stroke="#24276f" stroke-width="1.3"/>
<rect x="1178.5" y="931.0" width="18.0" height="18.0" fill="#383e96" stroke="#24276f" stroke-width="1.3"/>
<rect x="1178.5" y="941.0" width="18.0" height="18.0" fill="#383e96" stroke="#24276f" stroke-width="1.3"/>
<rect x="1170.9" y="831.4" width="18.0" height="18.0" fill="#383e96" stroke="#24276f" stroke-width="1.3"/>
<rect x="1170.9" y="849.0" width="18.0" height="18.0" fill="#383e96" stroke="#24276f" stroke-width="1.3"/>
<rect x="1170.9" y="866.0" width="18.0" height="18.0" fill="#383e96" stroke="#24276f" stroke-width="1.3"/>
<rect x="1170.9" y="881.0" width="18.0" height="18.0" fill="#383e96" stroke="#24276f" stroke-width="1.3"/>
<rect x="1170.9" y="896.0" width="18.0" height="18.0" fill="#383e96" stroke="#24276f" stroke-width="1.3"/>
<rect x="1170.9" y="911.0" width="18.0" height="18.0" fill="#383e96" stroke="#24276f" stroke-width="1.3"/>
<rect x="1170.9" y="926.0" width="18.0" height="18.0" fill="#383e96" stroke="#24276f" stroke-width="1.3"/>
<rect x="1170.9" y="941.0" width="18.0" height="18.0" fill="#383e96" stroke="#24276f" stroke-width="1.3"/>
<rect x="1170.9" y="956.0" width="18.0" height="18.0" fill="#383e96" stroke="#24276f" stroke-width="1.3"/>
<rect x="1170.9" y="971.0" width="18.0" height="18.0" fill="#383e96" stroke="#24276f" stroke-width="1.3"/>
<rect x="1170.9" y="981.0" width="18.0" height="18.0" fill="#383e96" stroke="#24276f" stroke-width="1.3"/>
<rect x="1170.9" y="987.6" width="18.0" height="18.0" fill="#383e96" stroke="#24276f" stroke-width="1.3"/>
<rect x="1178.0" y="996.6" width="18.0" height="18.0" fill="#383e96" stroke="#24276f" stroke-width="1.3"/>
<rect x="1218.6" y="826.1" width="18.0" height="18.0" fill="#383e96" stroke="#24276f" stroke-width="1.3"/>
<rect x="1213.2" y="820.8" width="18.0" height="18.0" fill="#383e96" stroke="#24276f" stroke-width="1.3"/>
<rect x="1218.6" y="859.5" width="18.0" height="18.0" fill="#383e96" stroke="#24276f" stroke-width="1.3"/>
<rect x="1218.6" y="849.0" width="18.0" height="18.0" fill="#383e96" stroke="#24276f" stroke-width="1.3"/>
<rect x="1218.6" y="896.2" width="18.0" height="18.0" fill="#383e96" stroke="#24276f" stroke-width="1.3"/>
<rect x="1213.2" y="889.2" width="18.0" height="18.0" fill="#383e96" stroke="#24276f" stroke-width="1.3"/>
<rect x="1218.6" y="921.2" width="18.0" height="18.0" fill="#383e96" stroke="#24276f" stroke-width="1.3"/>
<rect x="1218.4" y="958.3" width="18.0" height="18.0" fill="#383e96" stroke="#24276f" stroke-width="1.3"/>
<rect x="1218.4" y="949.5" width="18.0" height="18.0" fill="#383e96" stroke="#24276f" stroke-width="1.3"/>
<rect x="1212.9" y="943.7" width="18.0" height="18.0" fill="#383e96" stroke="#24276f" stroke-width="1.3"/>
<rect x="1212.9" y="979.1" width="18.0" height="18.0" fill="#383e96" stroke="#24276f" stroke-width="1.3"/>
<rect x="1253.7" y="869.4" width="18.0" height="18.0" fill="#383e96" stroke="#24276f" stroke-width="1.3"/>
<rect x="1253.7" y="859.5" width="18.0" height="18.0" fill="#383e96" stroke="#24276f" stroke-width="1.3"/>
<rect x="1261.0" y="917.4" width="18.0" height="18.0" fill="#383e96" stroke="#24276f" stroke-width="1.3"/>
<rect x="1261.0" y="912.5" width="18.0" height="18.0" fill="#383e96" stroke="#24276f" stroke-width="1.3"/>
<rect x="1296.0" y="847.1" width="18.0" height="18.0" fill="#383e96" stroke="#24276f" stroke-width="1.3"/>
<rect x="1296.0" y="879.0" width="18.0" height="18.0" fill="#383e96" stroke="#24276f" stroke-width="1.3"/>
<rect x="1584.7" y="752.3" width="18.0" height="18.0" fill="#383e96" stroke="#24276f" stroke-width="1.3"/>
<line x1="1003.1" y1="664.7" x2="1003.1" y2="1117.4" stroke="#101018" stroke-width="2"/>
<line x1="1002.1" y1="1116.4" x2="1692.7" y2="1116.4" stroke="#101018" stroke-width="2"/>
<line x1="997.5" y1="666.1" x2="1003.1" y2="666.1" stroke="#101018" stroke-width="1.5"/>
<text transform="translate(993.5 674.3) scale(0.9569 1)" font-size="23.88" text-anchor="end">1.5</text>
<line x1="997.5" y1="730.5" x2="1003.1" y2="730.5" stroke="#101018" stroke-width="1.5"/>
<text transform="translate(993.5 738.7) scale(0.9569 1)" font-size="23.88" text-anchor="end">1</text>
<line x1="997.5" y1="794.9" x2="1003.1" y2="794.9" stroke="#101018" stroke-width="1.5"/>
<text transform="translate(993.5 803.1) scale(0.9569 1)" font-size="23.88" text-anchor="end">0.5</text>
<line x1="997.5" y1="859.3" x2="1003.1" y2="859.3" stroke="#101018" stroke-width="1.5"/>
<text transform="translate(993.5 867.5) scale(0.9569 1)" font-size="23.88" text-anchor="end">0</text>
<line x1="997.5" y1="923.7" x2="1003.1" y2="923.7" stroke="#101018" stroke-width="1.5"/>
<text transform="translate(993.5 931.9) scale(0.9569 1)" font-size="23.88" text-anchor="end">-0.5</text>
<line x1="997.5" y1="988.1" x2="1003.1" y2="988.1" stroke="#101018" stroke-width="1.5"/>
<text transform="translate(993.5 996.3) scale(0.9569 1)" font-size="23.88" text-anchor="end">-1</text>
<line x1="997.5" y1="1052.5" x2="1003.1" y2="1052.5" stroke="#101018" stroke-width="1.5"/>
<text transform="translate(993.5 1060.7) scale(0.9569 1)" font-size="23.88" text-anchor="end">-1.5</text>
<line x1="997.5" y1="1116.9" x2="1003.1" y2="1116.9" stroke="#101018" stroke-width="1.5"/>
<text transform="translate(993.5 1125.1) scale(0.9569 1)" font-size="23.88" text-anchor="end">-2</text>
<line x1="997.5" y1="698.3" x2="1003.1" y2="698.3" stroke="#101018" stroke-width="1.5"/>
<line x1="997.5" y1="762.7" x2="1003.1" y2="762.7" stroke="#101018" stroke-width="1.5"/>
<line x1="997.5" y1="827.1" x2="1003.1" y2="827.1" stroke="#101018" stroke-width="1.5"/>
<line x1="997.5" y1="891.5" x2="1003.1" y2="891.5" stroke="#101018" stroke-width="1.5"/>
<line x1="997.5" y1="955.9" x2="1003.1" y2="955.9" stroke="#101018" stroke-width="1.5"/>
<line x1="997.5" y1="1020.3" x2="1003.1" y2="1020.3" stroke="#101018" stroke-width="1.5"/>
<line x1="997.5" y1="1084.7" x2="1003.1" y2="1084.7" stroke="#101018" stroke-width="1.5"/>
<line x1="1003.14" y1="1116.4" x2="1003.14" y2="1121.6000000000001" stroke="#101018" stroke-width="1.8"/>
<text transform="translate(1003.14 1146.5) scale(0.9569 1)" font-size="23.88" text-anchor="middle">-0.2</text>
<line x1="1101.5" y1="1116.4" x2="1101.5" y2="1121.6000000000001" stroke="#101018" stroke-width="1.8"/>
<text transform="translate(1101.5 1146.5) scale(0.9569 1)" font-size="23.88" text-anchor="middle">0</text>
<line x1="1199.86" y1="1116.4" x2="1199.86" y2="1121.6000000000001" stroke="#101018" stroke-width="1.8"/>
<text transform="translate(1199.86 1146.5) scale(0.9569 1)" font-size="23.88" text-anchor="middle">0.2</text>
<line x1="1298.22" y1="1116.4" x2="1298.22" y2="1121.6000000000001" stroke="#101018" stroke-width="1.8"/>
<text transform="translate(1298.22 1146.5) scale(0.9569 1)" font-size="23.88" text-anchor="middle">0.4</text>
<line x1="1396.58" y1="1116.4" x2="1396.58" y2="1121.6000000000001" stroke="#101018" stroke-width="1.8"/>
<text transform="translate(1396.58 1146.5) scale(0.9569 1)" font-size="23.88" text-anchor="middle">0.6</text>
<line x1="1494.94" y1="1116.4" x2="1494.94" y2="1121.6000000000001" stroke="#101018" stroke-width="1.8"/>
<text transform="translate(1494.94 1146.5) scale(0.9569 1)" font-size="23.88" text-anchor="middle">0.8</text>
<line x1="1593.3" y1="1116.4" x2="1593.3" y2="1121.6000000000001" stroke="#101018" stroke-width="1.8"/>
<text transform="translate(1593.3 1146.5) scale(0.9569 1)" font-size="23.88" text-anchor="middle">1</text>
<line x1="1691.66" y1="1116.4" x2="1691.66" y2="1121.6000000000001" stroke="#101018" stroke-width="1.8"/>
<text transform="translate(1691.66 1146.5) scale(0.9569 1)" font-size="23.88" text-anchor="middle">1.2</text>
<line x1="1052.32" y1="1116.4" x2="1052.32" y2="1121.6000000000001" stroke="#101018" stroke-width="1.8"/>
<line x1="1150.68" y1="1116.4" x2="1150.68" y2="1121.6000000000001" stroke="#101018" stroke-width="1.8"/>
<line x1="1249.04" y1="1116.4" x2="1249.04" y2="1121.6000000000001" stroke="#101018" stroke-width="1.8"/>
<line x1="1347.4" y1="1116.4" x2="1347.4" y2="1121.6000000000001" stroke="#101018" stroke-width="1.8"/>
<line x1="1445.76" y1="1116.4" x2="1445.76" y2="1121.6000000000001" stroke="#101018" stroke-width="1.8"/>
<line x1="1544.12" y1="1116.4" x2="1544.12" y2="1121.6000000000001" stroke="#101018" stroke-width="1.8"/>
<line x1="1642.48" y1="1116.4" x2="1642.48" y2="1121.6000000000001" stroke="#101018" stroke-width="1.8"/>
<rect x="1712.9" y="660.7" width="18.4" height="17.4" fill="#a5252b" stroke="#74141a" stroke-width="1.3"/>
<text transform="translate(1739.5 676.2) scale(0.9569 1)" font-size="23.88" text-anchor="start">R2</text>
<rect x="1712.9" y="692.1" width="18.4" height="18.2" fill="#383e96" stroke="#24276f" stroke-width="1.3"/>
<text transform="translate(1739.5 707.6) scale(0.9569 1)" font-size="23.88" text-anchor="start">Q2</text>
</g>
<g>
<line x1="52.3" y1="977.02" x2="813.5" y2="977.02" stroke="#000000" stroke-opacity="0.14" stroke-width="1.3"/>
<line x1="52.3" y1="946.44" x2="813.5" y2="946.44" stroke="#000000" stroke-opacity="0.14" stroke-width="1.3"/>
<line x1="52.3" y1="915.86" x2="813.5" y2="915.86" stroke="#000000" stroke-opacity="0.14" stroke-width="1.3"/>
<line x1="52.3" y1="885.28" x2="813.5" y2="885.28" stroke="#000000" stroke-opacity="0.14" stroke-width="1.3"/>
<line x1="52.3" y1="854.7" x2="813.5" y2="854.7" stroke="#000000" stroke-opacity="0.14" stroke-width="1.3"/>
<line x1="52.3" y1="824.12" x2="813.5" y2="824.12" stroke="#000000" stroke-opacity="0.14" stroke-width="1.3"/>
<line x1="52.3" y1="793.54" x2="813.5" y2="793.54" stroke="#000000" stroke-opacity="0.14" stroke-width="1.3"/>
<line x1="52.3" y1="762.96" x2="813.5" y2="762.96" stroke="#000000" stroke-opacity="0.14" stroke-width="1.3"/>
<line x1="52.3" y1="732.38" x2="813.5" y2="732.38" stroke="#000000" stroke-opacity="0.14" stroke-width="1.3"/>
<line x1="52.3" y1="701.8" x2="813.5" y2="701.8" stroke="#000000" stroke-opacity="0.14" stroke-width="1.3"/>
<rect x="61.7" y="762.04" width="85.3" height="245.56" fill="#a5252b" stroke="#74141a" stroke-width="1"/>
<rect x="147.0" y="780.54" width="85.3" height="227.06" fill="#383e96" stroke="#24276f" stroke-width="1"/>
<rect x="251.9" y="727.79" width="85.3" height="279.81" fill="#a5252b" stroke="#74141a" stroke-width="1"/>
<rect x="337.2" y="767.24" width="85.3" height="240.36" fill="#383e96" stroke="#24276f" stroke-width="1"/>
<rect x="442.6" y="715.26" width="85.3" height="292.34" fill="#a5252b" stroke="#74141a" stroke-width="1"/>
<rect x="527.9" y="771.83" width="85.3" height="235.77" fill="#383e96" stroke="#24276f" stroke-width="1"/>
<rect x="633.3" y="710.06" width="85.3" height="297.54" fill="#a5252b" stroke="#74141a" stroke-width="1"/>
<rect x="718.5999999999999" y="773.66" width="85.3" height="233.94" fill="#383e96" stroke="#24276f" stroke-width="1"/>
<line x1="52.3" y1="700.8" x2="52.3" y2="1008.6" stroke="#14142a" stroke-width="1.6"/>
<line x1="46.699999999999996" y1="1007.6" x2="813.5" y2="1007.6" stroke="#14142a" stroke-width="1.8"/>
<line x1="46.699999999999996" y1="1007.6" x2="52.3" y2="1007.6" stroke="#14142a" stroke-width="1.6"/>
<text transform="translate(43 1016.0) scale(0.9569 1)" font-size="23.88" text-anchor="end">0</text>
<line x1="46.699999999999996" y1="992.31" x2="52.3" y2="992.31" stroke="#14142a" stroke-width="1.6"/>
<line x1="46.699999999999996" y1="977.02" x2="52.3" y2="977.02" stroke="#14142a" stroke-width="1.6"/>
<text transform="translate(43 985.4) scale(0.9569 1)" font-size="23.88" text-anchor="end">0.1</text>
<line x1="46.699999999999996" y1="961.73" x2="52.3" y2="961.73" stroke="#14142a" stroke-width="1.6"/>
<line x1="46.699999999999996" y1="946.44" x2="52.3" y2="946.44" stroke="#14142a" stroke-width="1.6"/>
<text transform="translate(43 954.8) scale(0.9569 1)" font-size="23.88" text-anchor="end">0.2</text>
<line x1="46.699999999999996" y1="931.15" x2="52.3" y2="931.15" stroke="#14142a" stroke-width="1.6"/>
<line x1="46.699999999999996" y1="915.86" x2="52.3" y2="915.86" stroke="#14142a" stroke-width="1.6"/>
<text transform="translate(43 924.3) scale(0.9569 1)" font-size="23.88" text-anchor="end">0.3</text>
<line x1="46.699999999999996" y1="900.57" x2="52.3" y2="900.57" stroke="#14142a" stroke-width="1.6"/>
<line x1="46.699999999999996" y1="885.28" x2="52.3" y2="885.28" stroke="#14142a" stroke-width="1.6"/>
<text transform="translate(43 893.7) scale(0.9569 1)" font-size="23.88" text-anchor="end">0.4</text>
<line x1="46.699999999999996" y1="869.99" x2="52.3" y2="869.99" stroke="#14142a" stroke-width="1.6"/>
<line x1="46.699999999999996" y1="854.7" x2="52.3" y2="854.7" stroke="#14142a" stroke-width="1.6"/>
<text transform="translate(43 863.1) scale(0.9569 1)" font-size="23.88" text-anchor="end">0.5</text>
<line x1="46.699999999999996" y1="839.41" x2="52.3" y2="839.41" stroke="#14142a" stroke-width="1.6"/>
<line x1="46.699999999999996" y1="824.12" x2="52.3" y2="824.12" stroke="#14142a" stroke-width="1.6"/>
<text transform="translate(43 832.5) scale(0.9569 1)" font-size="23.88" text-anchor="end">0.6</text>
<line x1="46.699999999999996" y1="808.83" x2="52.3" y2="808.83" stroke="#14142a" stroke-width="1.6"/>
<line x1="46.699999999999996" y1="793.54" x2="52.3" y2="793.54" stroke="#14142a" stroke-width="1.6"/>
<text transform="translate(43 801.9) scale(0.9569 1)" font-size="23.88" text-anchor="end">0.7</text>
<line x1="46.699999999999996" y1="778.25" x2="52.3" y2="778.25" stroke="#14142a" stroke-width="1.6"/>
<line x1="46.699999999999996" y1="762.96" x2="52.3" y2="762.96" stroke="#14142a" stroke-width="1.6"/>
<text transform="translate(43 771.4) scale(0.9569 1)" font-size="23.88" text-anchor="end">0.8</text>
<line x1="46.699999999999996" y1="747.67" x2="52.3" y2="747.67" stroke="#14142a" stroke-width="1.6"/>
<line x1="46.699999999999996" y1="732.38" x2="52.3" y2="732.38" stroke="#14142a" stroke-width="1.6"/>
<text transform="translate(43 740.8) scale(0.9569 1)" font-size="23.88" text-anchor="end">0.9</text>
<line x1="46.699999999999996" y1="717.09" x2="52.3" y2="717.09" stroke="#14142a" stroke-width="1.6"/>
<line x1="46.699999999999996" y1="701.8" x2="52.3" y2="701.8" stroke="#14142a" stroke-width="1.6"/>
<text transform="translate(43 710.2) scale(0.9569 1)" font-size="23.88" text-anchor="end">1</text>
<line x1="147.0" y1="1007.6" x2="147.0" y2="1013.2" stroke="#14142a" stroke-width="1.6"/>
<text transform="translate(155.3 1016.4) rotate(-90) scale(0.9569 1)" font-size="23.88" text-anchor="end">Comp[1+0]</text>
<line x1="337.2" y1="1007.6" x2="337.2" y2="1013.2" stroke="#14142a" stroke-width="1.6"/>
<text transform="translate(345.5 1016.4) rotate(-90) scale(0.9569 1)" font-size="23.88" text-anchor="end">Comp[1+1]</text>
<line x1="527.9" y1="1007.6" x2="527.9" y2="1013.2" stroke="#14142a" stroke-width="1.6"/>
<text transform="translate(536.2 1016.4) rotate(-90) scale(0.9569 1)" font-size="23.88" text-anchor="end">Comp[1+2]</text>
<line x1="718.6" y1="1007.6" x2="718.6" y2="1013.2" stroke="#14142a" stroke-width="1.6"/>
<text transform="translate(726.9 1016.4) rotate(-90) scale(0.9569 1)" font-size="23.88" text-anchor="end">Comp[1+3]</text>
<text transform="translate(432.8 1150.8) scale(0.9569 1)" font-size="23.88" text-anchor="middle">Components</text>
<rect x="178.3" y="659.5" width="16.6" height="25.6" fill="#a5252b" stroke="#74141a" stroke-width="1"/>
<text transform="translate(203.5 679.8) scale(0.9569 1)" font-size="23.88" text-anchor="start">R2(cum) progression</text>
<rect x="427.3" y="659.5" width="16.6" height="25.6" fill="#383e96" stroke="#24276f" stroke-width="1"/>
<text transform="translate(451.8 679.8) scale(0.9569 1)" font-size="23.88" text-anchor="start">Q2(cum) progression</text>
</g>
<text transform="translate(13 39.8) scale(0.9662 1)" font-size="53.82" text-anchor="start">A</text>
<text transform="translate(913.6 48.4) scale(0.9662 1)" font-size="53.82" text-anchor="start">B</text>
<text transform="translate(0.3 612.9) scale(0.9662 1)" font-size="53.82" text-anchor="start">C</text>
<text transform="translate(908.7 621.0) scale(0.9662 1)" font-size="53.82" text-anchor="start">D</text>
</svg>
</body></html>
